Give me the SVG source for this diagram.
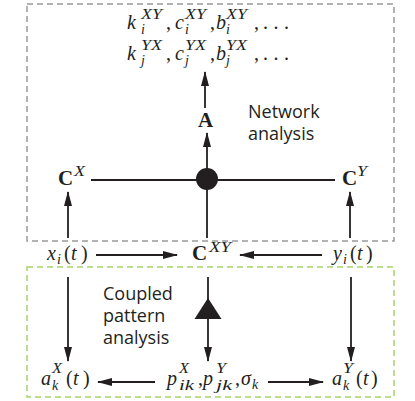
<svg xmlns="http://www.w3.org/2000/svg" width="415" height="401" viewBox="0 0 415 401">
<style>
.m{font-family:"Liberation Serif","DejaVu Serif",serif;font-style:italic;font-size:20px;fill:#231f20}
.r{font-family:"Liberation Serif","DejaVu Serif",serif;font-size:20px;fill:#231f20}
.b{font-family:"Liberation Serif","DejaVu Serif",serif;font-weight:bold;font-size:21px;fill:#231f20}
.s{font-family:"Liberation Serif","DejaVu Serif",serif;font-style:italic;font-size:14px;fill:#231f20}
.t{font-family:"Open Sans","Liberation Sans",sans-serif;font-size:18px;fill:#231f20}
.ln{stroke:#231f20;stroke-width:1.8;fill:none}
.arr{marker-end:url(#ah)}
</style>
<defs>
<marker id="ah" markerUnits="userSpaceOnUse" markerWidth="15" markerHeight="8" refX="14" refY="4" orient="auto">
<path d="M0,0 L15,4 L0,8 z" fill="#231f20"/>
</marker>
</defs>
<g id="boxes">
<rect id="network-box" x="27" y="4" width="367" height="237" fill="none" stroke="#9a9a9a" stroke-width="1.5" stroke-dasharray="6 4"/>
<rect id="pattern-box" x="27" y="267" width="367" height="130" fill="none" stroke="#a9d46b" stroke-width="1.5" stroke-dasharray="6 4"/>
</g>
<g id="connectors">
<line class="ln arr" x1="205" y1="108" x2="205" y2="72"/>
<line class="ln arr" x1="207" y1="170" x2="207" y2="133"/>
<line class="ln" x1="91" y1="180" x2="335" y2="180"/>
<line class="ln" x1="207" y1="180" x2="207" y2="238"/>
<line class="ln arr" x1="68" y1="238" x2="68" y2="192"/>
<line class="ln arr" x1="350" y1="238" x2="350" y2="192"/>
<line class="ln arr" x1="96" y1="255" x2="177" y2="255"/>
<line class="ln arr" x1="322" y1="255" x2="240" y2="255"/>
<line class="ln arr" x1="68" y1="277" x2="68" y2="361"/>
<line class="ln arr" x1="208" y1="277" x2="208" y2="361"/>
<line class="ln arr" x1="351" y1="277" x2="351" y2="361"/>
<polygon points="208,298 221.5,319 194.5,319" fill="#231f20"/>
<line class="ln arr" x1="155" y1="382" x2="98" y2="382"/>
<line class="ln arr" x1="268" y1="382" x2="323" y2="382"/>
</g>
<g id="junction">
<circle cx="207" cy="179" r="11" fill="#231f20"/>
</g>
<g id="measures">
<text class="m" x="127" y="29">k</text><text class="s" x="141" y="19" textLength="21" lengthAdjust="spacingAndGlyphs">XY</text><text class="s" x="141" y="34">i</text>
<text class="r" x="166" y="29">,</text>
<text class="m" x="175" y="29">c</text><text class="s" x="185" y="19" textLength="21" lengthAdjust="spacingAndGlyphs">XY</text><text class="s" x="185" y="34">i</text>
<text class="r" x="210" y="29">,</text>
<text class="m" x="216" y="29">b</text><text class="s" x="226" y="19" textLength="21" lengthAdjust="spacingAndGlyphs">XY</text><text class="s" x="226" y="34">i</text>
<text class="r" x="254" y="29">,</text>
<text class="r" x="263" y="29" letter-spacing="5.5">...</text>
<text class="m" x="127" y="60">k</text><text class="s" x="141" y="50" textLength="21" lengthAdjust="spacingAndGlyphs">YX</text><text class="s" x="141" y="65">j</text>
<text class="r" x="166" y="60">,</text>
<text class="m" x="175" y="60">c</text><text class="s" x="185" y="50" textLength="21" lengthAdjust="spacingAndGlyphs">YX</text><text class="s" x="185" y="65">j</text>
<text class="r" x="210" y="60">,</text>
<text class="m" x="216" y="60">b</text><text class="s" x="226" y="50" textLength="21" lengthAdjust="spacingAndGlyphs">YX</text><text class="s" x="226" y="65">j</text>
<text class="r" x="254" y="60">,</text>
<text class="r" x="263" y="60" letter-spacing="5.5">...</text>
</g>
<g id="A"><text class="b" x="198" y="127">A</text></g>
<g id="network-label"><text class="t" x="248" y="118">Network</text><text class="t" x="248" y="140">analysis</text></g>
<g id="CX"><text class="b" x="58" y="185">C</text><text class="s" x="74" y="176" textLength="11" lengthAdjust="spacingAndGlyphs">X</text></g>
<g id="CY"><text class="b" x="342" y="185">C</text><text class="s" x="357" y="176" textLength="10" lengthAdjust="spacingAndGlyphs">Y</text></g>
<g id="xi"><text class="m" x="47" y="260">x</text><text class="s" x="57" y="264">i</text><text class="r" x="64" y="260">(</text><text class="m" x="71" y="260">t</text><text class="r" x="81" y="260">)</text></g>
<g id="CXY"><text class="b" x="192" y="260">C</text><text class="s" x="209" y="252" textLength="22" lengthAdjust="spacingAndGlyphs">XY</text></g>
<g id="yi"><text class="m" x="333" y="260">y</text><text class="s" x="343" y="264">i</text><text class="r" x="350" y="260">(</text><text class="m" x="357" y="260">t</text><text class="r" x="366" y="260">)</text></g>
<g id="pattern-label"><text class="t" x="103" y="300">Coupled</text><text class="t" x="103" y="322">pattern</text><text class="t" x="103" y="344">analysis</text></g>
<g id="akX"><text class="m" x="41" y="385">a</text><text class="s" x="52" y="373" textLength="10" lengthAdjust="spacingAndGlyphs">X</text><text class="s" x="52" y="390">k</text><text class="r" x="66" y="385">(</text><text class="m" x="73" y="385">t</text><text class="r" x="83" y="385">)</text></g>
<g id="patterns"><text class="m" x="167" y="385">p</text><text class="s" x="179" y="373" textLength="10" lengthAdjust="spacingAndGlyphs">X</text><text class="s" x="179" y="390" textLength="15" lengthAdjust="spacingAndGlyphs">ik</text><text class="r" x="198" y="385">,</text><text class="m" x="203" y="385">p</text><text class="s" x="216" y="373" textLength="10" lengthAdjust="spacingAndGlyphs">Y</text><text class="s" x="216" y="390" textLength="16" lengthAdjust="spacingAndGlyphs">jk</text><text class="r" x="235" y="385">,</text><text class="m" x="241" y="385">σ</text><text class="s" x="252" y="389">k</text></g>
<g id="akY"><text class="m" x="332" y="385">a</text><text class="s" x="343" y="373" textLength="10" lengthAdjust="spacingAndGlyphs">Y</text><text class="s" x="343" y="390">k</text><text class="r" x="356" y="385">(</text><text class="m" x="363" y="385">t</text><text class="r" x="371" y="385">)</text></g>
</svg>
